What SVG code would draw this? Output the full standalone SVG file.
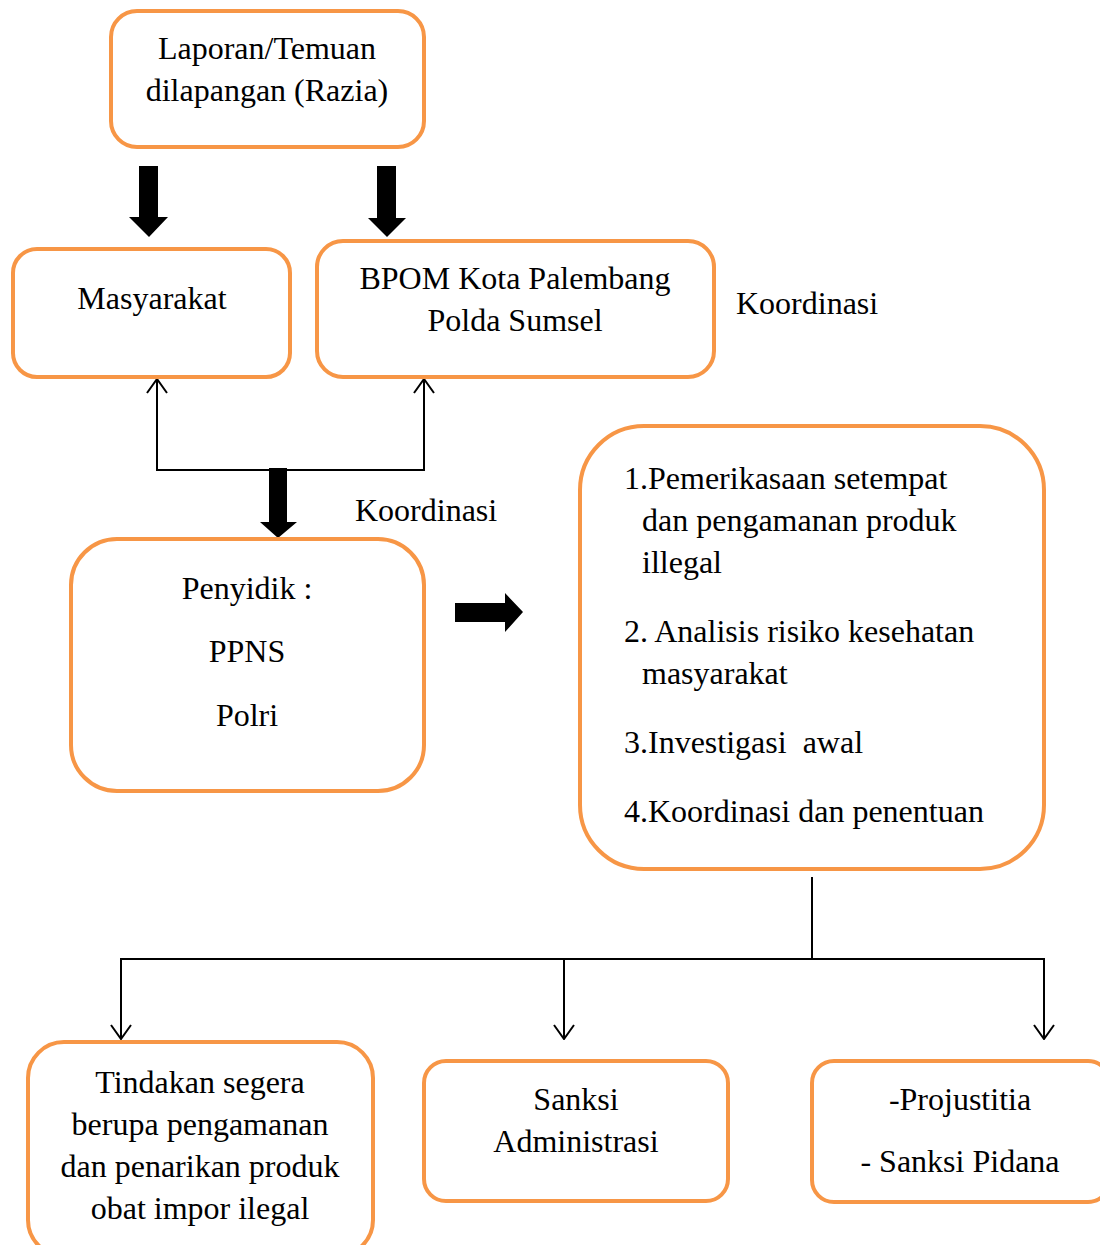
<svg xmlns="http://www.w3.org/2000/svg" width="1100" height="1245" viewBox="0 0 1100 1245">
<defs>
<style>
.box{fill:#fff;stroke:#F79646;stroke-width:4}
.t{font-family:"Liberation Serif","Times New Roman",serif;font-size:32px;fill:#000}
.c{text-anchor:middle}
.ln{fill:none;stroke:#000;stroke-width:2}
.fat{fill:#000}
</style>
<marker id="open" viewBox="0 0 16 22" refX="15" refY="11" markerWidth="16" markerHeight="22" markerUnits="userSpaceOnUse" orient="auto-start-reverse">
<path d="M1,1 L15,11 L1,21" fill="none" stroke="#000" stroke-width="2"/>
</marker>
</defs>
<rect width="1100" height="1245" fill="#fff"/>
<g id="connectors">
<polygon class="fat" points="139,166 158,166 158,217 168,217 149,237 129,217 139,217"/>
<polygon class="fat" points="377,166 396,166 396,218 406,218 387,237 368,218 377,218"/>
<polyline class="ln" points="157,379 157,470 424,470 424,379" marker-start="url(#open)" marker-end="url(#open)"/>
<polygon class="fat" points="269,468 287,468 287,522 297,522 278,538 260,522 269,522"/>
<polygon class="fat" points="455,603 505,603 505,593 523,612 505,632 505,622 455,622"/>
<line class="ln" x1="812" y1="877" x2="812" y2="959"/>
<line class="ln" x1="121" y1="959" x2="1044" y2="959"/>
<line class="ln" x1="121" y1="958" x2="121" y2="1039" marker-end="url(#open)"/>
<line class="ln" x1="564" y1="958" x2="564" y2="1039" marker-end="url(#open)"/>
<line class="ln" x1="1044" y1="958" x2="1044" y2="1039" marker-end="url(#open)"/>
</g>
<g id="laporan">
<rect class="box" x="111" y="11" width="313" height="136" rx="26"/>
<text class="t c" x="267" y="59">Laporan/Temuan</text>
<text class="t c" x="267" y="101">dilapangan (Razia)</text>
</g>
<g id="masyarakat">
<rect class="box" x="13" y="249" width="277" height="128" rx="24"/>
<text class="t c" x="152" y="309">Masyarakat</text>
</g>
<g id="bpom">
<rect class="box" x="317" y="241" width="397" height="136" rx="26"/>
<text class="t c" x="515" y="289">BPOM Kota Palembang</text>
<text class="t c" x="515" y="331">Polda Sumsel</text>
</g>
<g id="koordinasi1">
<text class="t" x="736" y="314">Koordinasi</text>
</g>
<g id="koordinasi2">
<text class="t" x="355" y="521">Koordinasi</text>
</g>
<g id="penyidik">
<rect class="box" x="71" y="539" width="353" height="252" rx="46"/>
<text class="t c" x="247" y="599">Penyidik :</text>
<text class="t c" x="247" y="662">PPNS</text>
<text class="t c" x="247" y="726">Polri</text>
</g>
<g id="langkah">
<rect class="box" x="580" y="426" width="464" height="443" rx="64"/>
<text class="t" x="624" y="489">1.Pemerikasaan setempat</text>
<text class="t" x="642" y="531">dan pengamanan produk</text>
<text class="t" x="642" y="573">illegal</text>
<text class="t" x="624" y="642">2. Analisis risiko kesehatan</text>
<text class="t" x="642" y="684">masyarakat</text>
<text class="t" x="624" y="753" xml:space="preserve">3.Investigasi  awal</text>
<text class="t" x="624" y="822">4.Koordinasi dan penentuan</text>
</g>
<g id="tindakan">
<rect class="box" x="28" y="1042" width="345" height="214" rx="36"/>
<text class="t c" x="200" y="1093">Tindakan segera</text>
<text class="t c" x="200" y="1135">berupa pengamanan</text>
<text class="t c" x="200" y="1177">dan penarikan produk</text>
<text class="t c" x="200" y="1219">obat impor ilegal</text>
</g>
<g id="sanksi">
<rect class="box" x="424" y="1061" width="304" height="140" rx="22"/>
<text class="t c" x="576" y="1110">Sanksi</text>
<text class="t c" x="576" y="1152">Administrasi</text>
</g>
<g id="projustitia">
<rect class="box" x="812" y="1061" width="298" height="141" rx="22"/>
<text class="t c" x="960" y="1110">-Projustitia</text>
<text class="t c" x="960" y="1172">- Sanksi Pidana</text>
</g>
</svg>
